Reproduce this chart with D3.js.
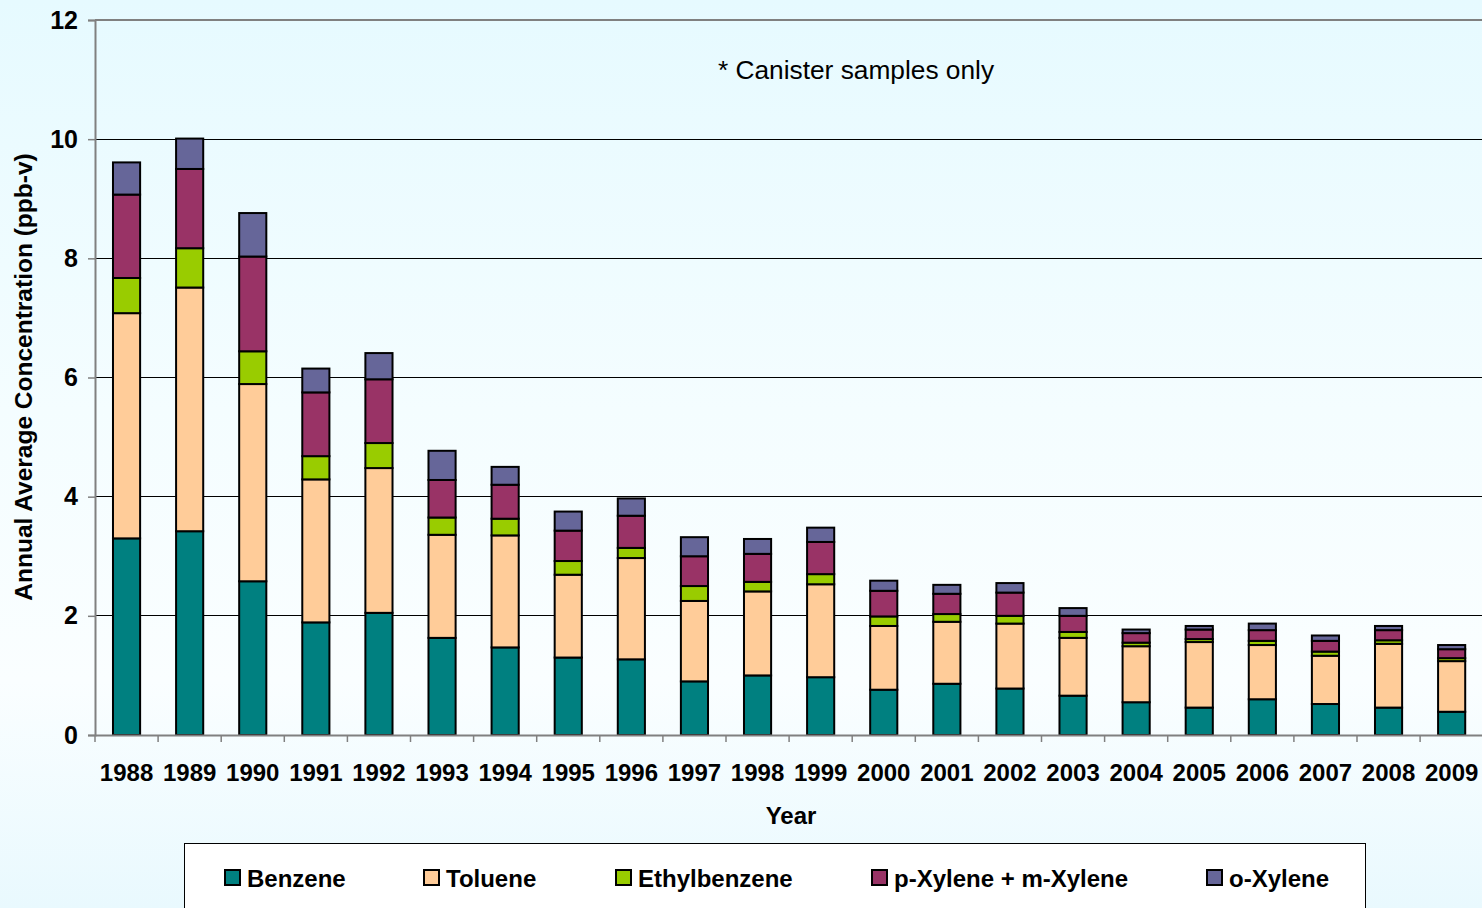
<!DOCTYPE html>
<html>
<head>
<meta charset="utf-8">
<script src="https://cdn.jsdelivr.net/npm/d3@7"></script>
<style>
  html, body { margin: 0; padding: 0; overflow: hidden; }
  svg { display: block; font-family: "Liberation Sans", Arial, sans-serif; }
</style>
</head>
<body>
<script>
const years = ["1988","1989","1990","1991","1992","1993","1994","1995","1996","1997","1998","1999","2000","2001","2002","2003","2004","2005","2006","2007","2008","2009"];
const benzene      = [3.30,3.42,2.58,1.89,2.05,1.63,1.47,1.30,1.27,0.90,1.00,0.97,0.76,0.86,0.78,0.66,0.55,0.46,0.60,0.52,0.46,0.39];
const toluene      = [3.78,4.09,3.31,2.40,2.43,1.73,1.88,1.39,1.70,1.35,1.41,1.56,1.07,1.04,1.09,0.97,0.94,1.10,0.91,0.81,1.07,0.85];
const ethylbenzene = [0.59,0.66,0.55,0.39,0.42,0.29,0.28,0.23,0.17,0.25,0.16,0.17,0.16,0.13,0.13,0.10,0.06,0.05,0.07,0.07,0.06,0.05];
const pmXylene     = [1.40,1.33,1.59,1.07,1.07,0.63,0.57,0.51,0.54,0.50,0.47,0.54,0.43,0.34,0.39,0.27,0.16,0.16,0.18,0.18,0.17,0.15];
const oXylene      = [0.54,0.51,0.73,0.40,0.44,0.49,0.30,0.32,0.29,0.32,0.25,0.24,0.17,0.15,0.16,0.13,0.06,0.06,0.11,0.09,0.07,0.07];
const seriesNames  = ["Benzene","Toluene","Ethylbenzene","p-Xylene + m-Xylene","o-Xylene"];
const seriesColors = ["#008080","#FFCC99","#99CC00","#993366","#666699"];
const yTicks = [0,2,4,6,8,10,12];

const W = 1482, H = 908;
const margin = {left: 95, top: 20, bottom: 735};
const plotRight = 95 + 22 * 63.1;

const svg = d3.select("body").append("svg").attr("width", W).attr("height", H);

const defs = svg.append("defs");
const grad = defs.append("linearGradient").attr("id","bg").attr("x1",0).attr("y1",0).attr("x2",0).attr("y2",1);
grad.append("stop").attr("offset","0%").attr("stop-color","#e6faff");
grad.append("stop").attr("offset","45%").attr("stop-color","#f4fdff");
grad.append("stop").attr("offset","75%").attr("stop-color","#fafeff");
grad.append("stop").attr("offset","100%").attr("stop-color","#e9f9fe");
svg.append("rect").attr("width", W).attr("height", H).attr("fill","url(#bg)");

const keys = ["benzene","toluene","ethylbenzene","pmXylene","oXylene"];
const rows = years.map((y,i) => ({year:y, benzene:benzene[i], toluene:toluene[i], ethylbenzene:ethylbenzene[i], pmXylene:pmXylene[i], oXylene:oXylene[i]}));
const stacked = d3.stack().keys(keys)(rows);

const x = d3.scaleBand().domain(years).range([margin.left, plotRight]).padding(0);
const y = d3.scaleLinear().domain([0,12]).range([margin.bottom, margin.top]);
const barW = x.bandwidth() * 0.43;

// gridlines
svg.append("g").selectAll("line").data(yTicks.filter(t => t > 0 && t < 12)).join("line")
  .attr("x1", margin.left).attr("x2", W).attr("y1", d => y(d)).attr("y2", d => y(d))
  .attr("stroke", "#000").attr("stroke-width", 1).attr("shape-rendering","crispEdges");
// top border
svg.append("line").attr("x1", margin.left).attr("x2", W).attr("y1", y(12)).attr("y2", y(12))
  .attr("stroke","#808080").attr("stroke-width",2);

// bars
const colorOf = d3.scaleOrdinal().domain(keys).range(seriesColors);
svg.append("g").selectAll("g").data(stacked).join("g")
  .attr("fill", d => colorOf(d.key))
  .selectAll("rect").data(d => d).join("rect")
  .attr("x", d => x(d.data.year) + (x.bandwidth() - barW) / 2)
  .attr("width", barW)
  .attr("y", d => y(d[1]))
  .attr("height", d => y(d[0]) - y(d[1]))
  .attr("stroke", "#000").attr("stroke-width", 2);

// y axis
const yAxis = d3.axisLeft(y).tickValues(yTicks).tickSize(7).tickPadding(10).tickFormat(d3.format("d"));
const gy = svg.append("g").attr("transform", `translate(${margin.left},0)`).call(yAxis);
gy.select(".domain").attr("stroke","#808080").attr("stroke-width",2);
gy.selectAll(".tick line").attr("stroke","#808080").attr("stroke-width",1.5);
gy.selectAll(".tick text").attr("font-size", 25).attr("font-weight","bold").attr("fill","#000")
  .attr("font-family", "Liberation Sans, Arial, sans-serif");

// x axis
const xAxis = d3.axisBottom(x).tickSize(0).tickPadding(0);
const gx = svg.append("g").attr("transform", `translate(0,${margin.bottom})`).call(xAxis);
gx.select(".domain").attr("stroke","#808080").attr("stroke-width",2);
gx.selectAll(".tick text").attr("y", 46).attr("dy", 0).attr("font-size", 24).attr("font-weight","bold")
  .attr("fill","#000").attr("font-family", "Liberation Sans, Arial, sans-serif");
// boundary tick marks
svg.append("g").selectAll("line").data(years.concat(["end"])).join("line")
  .attr("x1", (d,i) => margin.left + i * x.step()).attr("x2", (d,i) => margin.left + i * x.step())
  .attr("y1", margin.bottom).attr("y2", margin.bottom + 7)
  .attr("stroke","#808080").attr("stroke-width",1.5);

// axis titles
svg.append("text").attr("x", 791).attr("y", 824).attr("text-anchor","middle")
  .attr("font-size", 24).attr("font-weight","bold").text("Year");
svg.append("text").attr("transform","translate(32,377) rotate(-90)").attr("text-anchor","middle")
  .attr("font-size", 24.5).attr("font-weight","bold").text("Annual Average Concentration (ppb-v)");

// annotation
svg.append("text").attr("x", 856).attr("y", 79).attr("text-anchor","middle")
  .attr("font-size", 26.3).text("* Canister samples only");

// legend
svg.append("rect").attr("x", 184.5).attr("y", 843.5).attr("width", 1181).attr("height", 80)
  .attr("fill","#fff").attr("stroke","#000").attr("stroke-width",1);
const legendX = [225, 424, 616, 872, 1207];
const lg = svg.append("g").selectAll("g").data(seriesNames).join("g")
  .attr("transform", (d,i) => `translate(${legendX[i]},870)`);
lg.append("rect").attr("width", 15).attr("height", 15).attr("fill", (d,i) => seriesColors[i])
  .attr("stroke","#000").attr("stroke-width",2);
lg.append("text").attr("x", 22).attr("y", 17).attr("font-size", 24).attr("font-weight","bold").text(d => d);
</script>
</body>
</html>
